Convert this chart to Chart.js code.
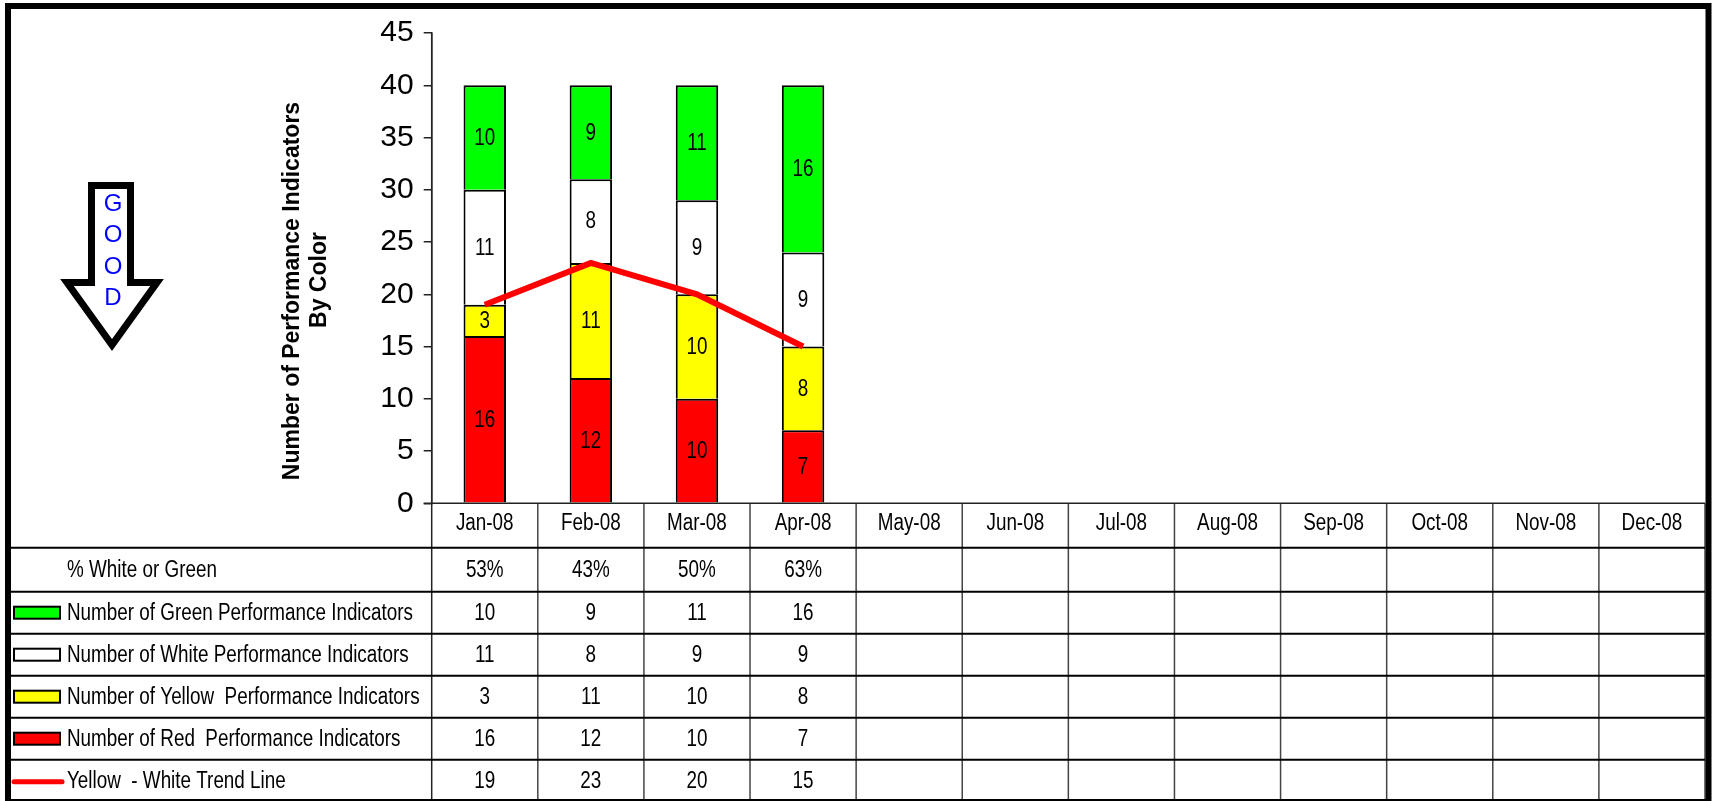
<!DOCTYPE html>
<html>
<head>
<meta charset="utf-8">
<title>Performance Indicators By Color</title>
<script src="https://cdn.jsdelivr.net/npm/chart.js@4.4.1/dist/chart.umd.min.js"></script>
<style>
  html, body { margin: 0; padding: 0; background: #fff; overflow: hidden; }
  #wrap { width: 1715px; height: 801px; }
</style>
</head>
<body>
<div id="wrap"><canvas id="perfChart" width="1715" height="801"></canvas></div>
<script>
// categories
const months = ['Jan-08', 'Feb-08', 'Mar-08', 'Apr-08', 'May-08', 'Jun-08',
                'Jul-08', 'Aug-08', 'Sep-08', 'Oct-08', 'Nov-08', 'Dec-08'];

// series (only Jan - Apr reported so far)
const redCounts = [16, 12, 10, 7];
const yellowCounts = [3, 11, 10, 8];
const whiteCounts = [11, 8, 9, 9];
const greenCounts = [10, 9, 11, 16];
const trendValues = [19, 23, 20, 15];
const pctWhiteGreen = ['53%', '43%', '50%', '63%'];

// y axis ticks
const yMin = 0, yMax = 45, yStep = 5;

const SANS = '"Liberation Sans", Arial, sans-serif';

// no narrow face installed, so squeeze the regular one
function narrowText(ctx, text, x, y) {
    ctx.save();
    ctx.translate(x, y);
    ctx.scale(0.82, 1);
    ctx.fillText(text, 0, 0);
    ctx.restore();
}

const tablePlugin = {
    id: 'perfTable',
    beforeDraw(chart) {
        const ctx = chart.ctx;
        ctx.save();
        ctx.fillStyle = '#fff';
        ctx.fillRect(0, 0, chart.width, chart.height);
        ctx.restore();
    },
    afterDatasetsDraw(chart) {
        // value labels inside the bar segments
        const ctx = chart.ctx;
        ctx.save();
        ctx.font = '23px ' + SANS;
        ctx.fillStyle = '#000';
        ctx.textAlign = 'center';
        ctx.textBaseline = 'middle';
        chart.data.datasets.forEach((ds, i) => {
            if (ds.type === 'line') return;
            chart.getDatasetMeta(i).data.forEach((bar, j) => {
                const v = ds.data[j];
                if (v == null) return;
                const c = bar.getCenterPoint();
                narrowText(ctx, String(v), c.x, c.y + 1);
            });
        });
        ctx.restore();
    },
    afterDraw(chart) {
        const ctx = chart.ctx;
        const area = chart.chartArea;
        const x = chart.scales.x;
        const half = (x.getPixelForValue(1) - x.getPixelForValue(0)) / 2;
        const top = area.bottom;
        const rowH = [44.4, 44, 42, 42, 42, 42, 42];
        const edges = [top];
        rowH.forEach(h => edges.push(edges[edges.length - 1] + h));
        const left = 11, right = area.right;

        ctx.save();
        // vertical column lines
        ctx.strokeStyle = '#444';
        ctx.lineWidth = 1.5;
        for (let i = 0; i < months.length; i++) {
            const cx = x.getPixelForValue(i) + half;
            ctx.beginPath();
            ctx.moveTo(cx, top);
            ctx.lineTo(cx, chart.height);
            ctx.stroke();
        }
        // y axis carried through the table
        ctx.strokeStyle = '#222';
        ctx.beginPath();
        ctx.moveTo(area.left, area.top);
        ctx.lineTo(area.left, chart.height);
        ctx.stroke();
        // x axis line
        ctx.beginPath();
        ctx.moveTo(area.left - 8, top);
        ctx.lineTo(right, top);
        ctx.stroke();
        // row lines
        ctx.strokeStyle = '#000';
        ctx.lineWidth = 2;
        for (let r = 1; r < edges.length - 1; r++) {
            ctx.beginPath();
            ctx.moveTo(left, edges[r]);
            ctx.lineTo(right, edges[r]);
            ctx.stroke();
        }

        // month labels
        ctx.font = '23px ' + SANS;
        ctx.fillStyle = '#000';
        ctx.textAlign = 'center';
        ctx.textBaseline = 'middle';
        months.forEach((m, i) => narrowText(ctx, m, x.getPixelForValue(i), top + 20));

        // table rows
        const ds = chart.data.datasets;
        const rows = [
            { label: '% White or Green', values: pctWhiteGreen },
            { label: ds[3].label, values: ds[3].data, box: ds[3].backgroundColor },
            { label: ds[2].label, values: ds[2].data, box: ds[2].backgroundColor },
            { label: ds[1].label, values: ds[1].data, box: ds[1].backgroundColor },
            { label: ds[0].label, values: ds[0].data, box: ds[0].backgroundColor },
            { label: ds[4].label, values: ds[4].data, line: ds[4].borderColor }
        ];
        rows.forEach((row, r) => {
            const cy = (edges[r + 1] + edges[r + 2]) / 2;
            ctx.textAlign = 'left';
            ctx.fillStyle = '#000';
            narrowText(ctx, row.label, 67, cy + 1);
            if (row.box) {
                ctx.fillStyle = row.box;
                ctx.fillRect(14, cy - 6, 46, 12);
                ctx.strokeStyle = '#000';
                ctx.lineWidth = 2;
                ctx.strokeRect(14, cy - 6, 46, 12);
            }
            if (row.line) {
                ctx.strokeStyle = row.line;
                ctx.lineWidth = 5;
                ctx.lineCap = 'round';
                ctx.beginPath();
                ctx.moveTo(14, cy + 1);
                ctx.lineTo(62, cy + 1);
                ctx.stroke();
                ctx.lineCap = 'butt';
            }
            ctx.textAlign = 'center';
            ctx.fillStyle = '#000';
            row.values.forEach((v, i) => {
                if (v == null) return;
                narrowText(ctx, String(v), x.getPixelForValue(i), cy + 1);
            });
        });

        // y axis title
        ctx.font = 'bold 23px ' + SANS;
        ctx.textAlign = 'center';
        ctx.textBaseline = 'middle';
        ctx.save();
        ctx.translate(293, 291);
        ctx.rotate(-Math.PI / 2);
        ctx.fillText('Number of Performance Indicators', 0, 0);
        ctx.restore();
        ctx.save();
        ctx.translate(320, 280);
        ctx.rotate(-Math.PI / 2);
        ctx.fillText('By Color', 0, 0);
        ctx.restore();

        // GOOD arrow
        ctx.strokeStyle = '#000';
        ctx.lineWidth = 7;
        ctx.lineJoin = 'miter';
        ctx.beginPath();
        ctx.moveTo(91.5, 185.5);
        ctx.lineTo(130.5, 185.5);
        ctx.lineTo(130.5, 282.5);
        ctx.lineTo(157, 282.5);
        ctx.lineTo(112, 345);
        ctx.lineTo(67, 282.5);
        ctx.lineTo(91.5, 282.5);
        ctx.closePath();
        ctx.stroke();
        ctx.font = '24px ' + SANS;
        ctx.fillStyle = '#0000ff';
        ['G', 'O', 'O', 'D'].forEach((ch, i) => ctx.fillText(ch, 113, 204 + i * 31.5));

        // outer frame
        ctx.strokeStyle = '#000';
        ctx.lineWidth = 6;
        ctx.strokeRect(8, 6, 1700.5, 796);
        ctx.restore();
    }
};

new Chart(document.getElementById('perfChart'), {
    type: 'bar',
    data: {
        labels: months,
        datasets: [
            { label: 'Number of Red  Performance Indicators', data: redCounts,
              backgroundColor: '#ff0000', borderColor: '#000', borderWidth: 2, order: 1 },
            { label: 'Number of Yellow  Performance Indicators', data: yellowCounts,
              backgroundColor: '#ffff00', borderColor: '#000', borderWidth: 2, order: 1 },
            { label: 'Number of White Performance Indicators', data: whiteCounts,
              backgroundColor: '#ffffff', borderColor: '#000', borderWidth: 2, order: 1 },
            { label: 'Number of Green Performance Indicators', data: greenCounts,
              backgroundColor: '#00ff00', borderColor: '#000', borderWidth: 2, order: 1 },
            { type: 'line', label: 'Yellow  - White Trend Line', data: trendValues, stack: 'trend',
              borderColor: '#ff0000', borderWidth: 6, pointRadius: 0, tension: 0, fill: false, order: 0 }
        ]
    },
    options: {
        responsive: false,
        animation: false,
        devicePixelRatio: 1,
        categoryPercentage: 0.5,
        barPercentage: 0.8,
        layout: { padding: { top: 33, bottom: 297.7, left: 0, right: 10 } },
        plugins: { legend: { display: false }, tooltip: { enabled: false } },
        scales: {
            x: { display: false, stacked: true, offset: true },
            y: {
                stacked: true,
                min: yMin,
                max: yMax,
                afterFit(scale) { scale.width = 431.7; },
                ticks: { stepSize: yStep, color: '#000', padding: 10, font: { family: SANS, size: 30 } },
                grid: { drawOnChartArea: false, tickLength: 8, color: '#222', lineWidth: 1.5 },
                border: { color: '#222', width: 1.5 }
            }
        }
    },
    plugins: [tablePlugin]
});
</script>
</body>
</html>
